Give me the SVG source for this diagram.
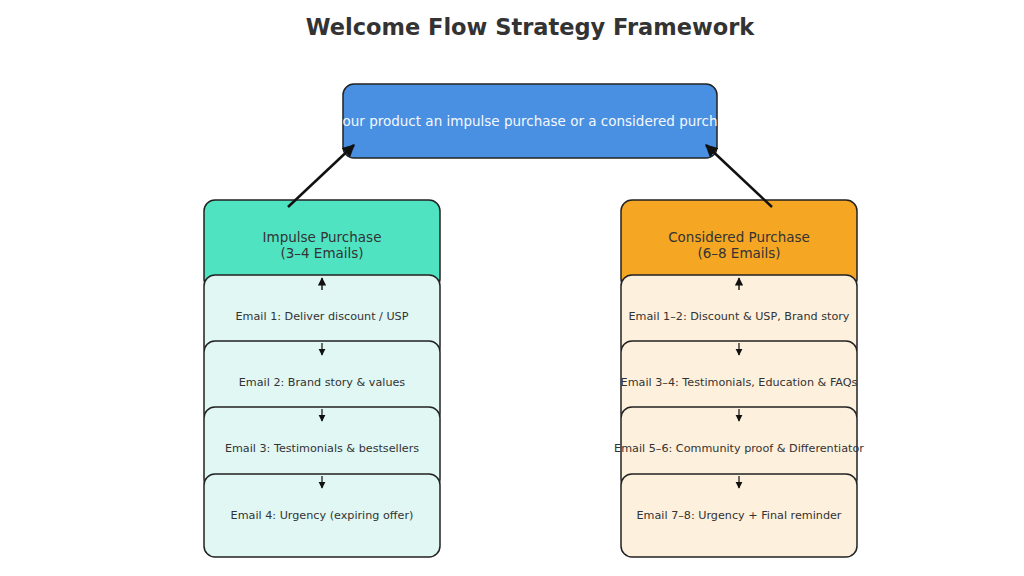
<svg xmlns="http://www.w3.org/2000/svg" width="1024" height="576" viewBox="0 0 1024 576">
<defs>
<style>
text{font-family:"DejaVu Sans","Liberation Sans",sans-serif;text-anchor:middle;fill:#333}
.title{font-size:22.5px;font-weight:bold}
.box{stroke:#222;stroke-width:1.5}
.h{font-size:13.5px}
.e{font-size:11.2px}
.conn{stroke:#111;fill:none}
</style>
<marker id="ah" viewBox="0 0 10 10" refX="9" refY="5" markerWidth="5" markerHeight="5" orient="auto" markerUnits="strokeWidth"><path d="M0,0 L10,5 L0,10 z" fill="#111"/></marker>
<marker id="as" viewBox="0 0 10 10" refX="9" refY="5" markerWidth="6" markerHeight="6" orient="auto" markerUnits="strokeWidth"><path d="M0,0 L10,5 L0,10 z" fill="#111"/></marker>
<clipPath id="topclip"><rect x="343" y="84" width="374" height="74"/></clipPath>
</defs>
<rect width="1024" height="576" fill="#fff"/>
<text class="title" x="530" y="35">Welcome Flow Strategy Framework</text>

<g id="top">
<rect class="box" x="343" y="84" width="374" height="74" rx="11" fill="#4A90E2"/>
<text class="h" x="530" y="126" clip-path="url(#topclip)" style="fill:#f4f8fd">our product an impulse purchase or a considered purch</text>
</g>

<g id="impulse">
<rect class="box" x="204" y="200" width="236" height="90" rx="11" fill="#50E3C2"/>
<text class="h" x="322" y="242">Impulse Purchase</text>
<text class="h" x="322" y="258">(3–4 Emails)</text>
</g>
<g id="i1"><rect class="box" x="204" y="275" width="236" height="83" rx="11" fill="#E0F7F3"/><text class="e" x="322" y="320">Email 1: Deliver discount / USP</text></g>
<g id="i2"><rect class="box" x="204" y="341" width="236" height="83" rx="11" fill="#E0F7F3"/><text class="e" x="322" y="386">Email 2: Brand story &amp; values</text></g>
<g id="i3"><rect class="box" x="204" y="407" width="236" height="83" rx="11" fill="#E0F7F3"/><text class="e" x="322" y="452">Email 3: Testimonials &amp; bestsellers</text></g>
<g id="i4"><rect class="box" x="204" y="474" width="236" height="83" rx="11" fill="#E0F7F3"/><text class="e" x="322" y="519">Email 4: Urgency (expiring offer)</text></g>

<g id="considered">
<rect class="box" x="621" y="200" width="236" height="90" rx="11" fill="#F5A623"/>
<text class="h" x="739" y="242">Considered Purchase</text>
<text class="h" x="739" y="258">(6–8 Emails)</text>
</g>
<g id="c1"><rect class="box" x="621" y="275" width="236" height="83" rx="11" fill="#FDF0DC"/><text class="e" x="739" y="320">Email 1–2: Discount &amp; USP, Brand story</text></g>
<g id="c2"><rect class="box" x="621" y="341" width="236" height="83" rx="11" fill="#FDF0DC"/><text class="e" x="739" y="386">Email 3–4: Testimonials, Education &amp; FAQs</text></g>
<g id="c3"><rect class="box" x="621" y="407" width="236" height="83" rx="11" fill="#FDF0DC"/><text class="e" x="739" y="452">Email 5–6: Community proof &amp; Differentiator</text></g>
<g id="c4"><rect class="box" x="621" y="474" width="236" height="83" rx="11" fill="#FDF0DC"/><text class="e" x="739" y="519">Email 7–8: Urgency + Final reminder</text></g>

<g id="connectors">
<line class="conn" x1="288" y1="207" x2="354" y2="145" stroke-width="2.5" marker-end="url(#ah)"/>
<line class="conn" x1="772" y1="207" x2="706" y2="145" stroke-width="2.5" marker-end="url(#ah)"/>
<line class="conn" x1="322" y1="290" x2="322" y2="278" stroke-width="1.4" marker-end="url(#as)"/>
<line class="conn" x1="322" y1="343" x2="322" y2="355" stroke-width="1.2" marker-end="url(#as)"/>
<line class="conn" x1="322" y1="409" x2="322" y2="421" stroke-width="1.2" marker-end="url(#as)"/>
<line class="conn" x1="322" y1="476" x2="322" y2="488" stroke-width="1.2" marker-end="url(#as)"/>
<line class="conn" x1="739" y1="290" x2="739" y2="278" stroke-width="1.4" marker-end="url(#as)"/>
<line class="conn" x1="739" y1="343" x2="739" y2="355" stroke-width="1.2" marker-end="url(#as)"/>
<line class="conn" x1="739" y1="409" x2="739" y2="421" stroke-width="1.2" marker-end="url(#as)"/>
<line class="conn" x1="739" y1="476" x2="739" y2="488" stroke-width="1.2" marker-end="url(#as)"/>
</g>
</svg>
